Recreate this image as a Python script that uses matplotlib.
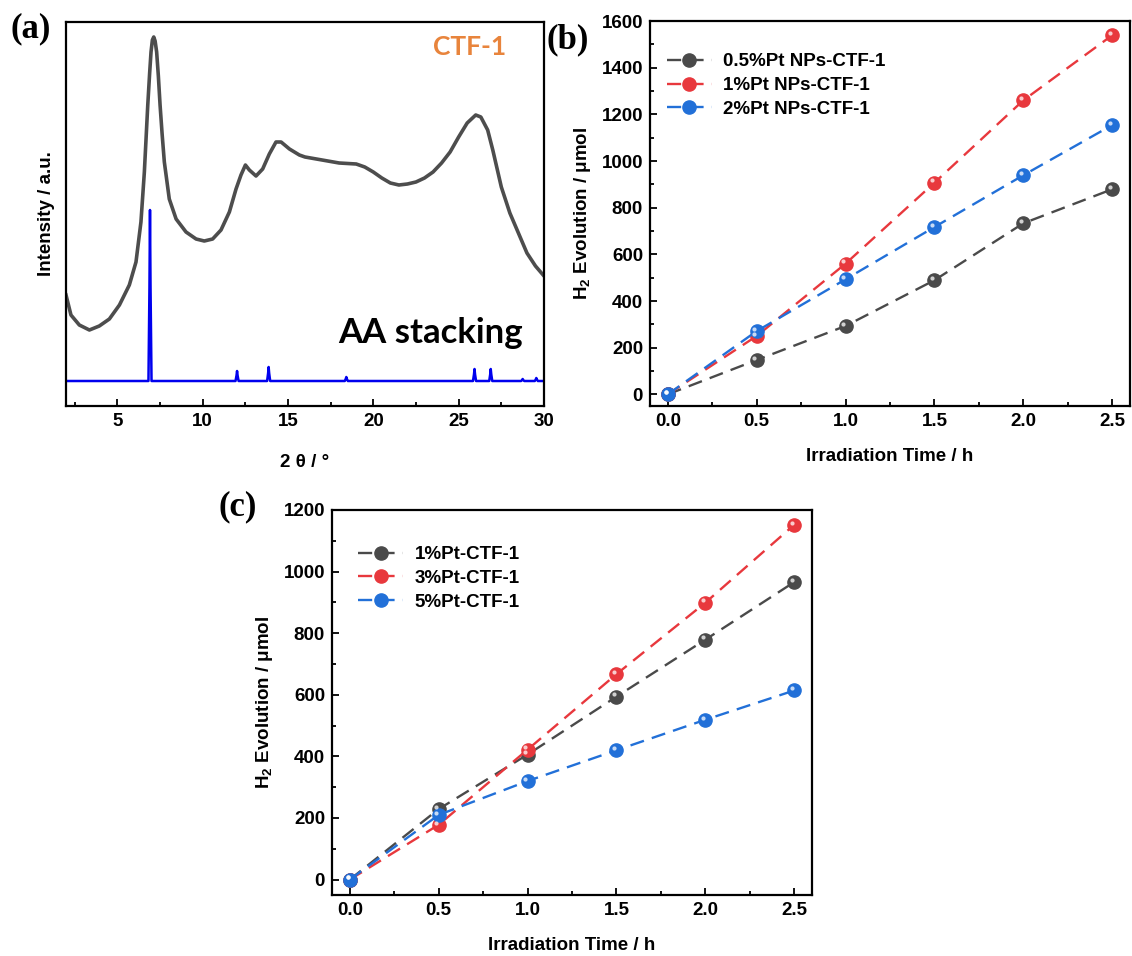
import numpy as np
import matplotlib
matplotlib.use('Agg')
import matplotlib.pyplot as plt
import matplotlib.transforms as mtransforms

plt.rcParams['font.family'] = ['Liberation Sans', 'DejaVu Sans']
plt.rcParams['font.weight'] = 'bold'
plt.rcParams['mathtext.fontset'] = 'custom'
plt.rcParams['mathtext.rm'] = 'Liberation Sans:bold'
plt.rcParams['mathtext.bf'] = 'Liberation Sans:bold'
plt.rcParams['mathtext.default'] = 'bf'

# ---- (a) XRD of CTF-1 (measured) and simulated AA stacking
two_theta = [2.0, 2.29, 2.78, 3.37, 3.95, 4.54, 5.13, 5.71, 6.10, 6.39, 6.59,
             6.79, 6.90, 6.98, 7.06, 7.14, 7.22, 7.31, 7.41, 7.51, 7.63, 7.76,
             8.05, 8.45, 9.03, 9.62, 10.10,
             10.59, 11.08, 11.57, 11.96, 12.25, 12.51, 12.74, 13.13, 13.52,
             13.91, 14.30, 14.60, 15.09, 15.67, 16.0, 17.0, 18.0, 19.0, 19.5,
             20.0, 20.5, 21.0, 21.5, 22.0, 22.5, 23.0, 23.5, 24.0, 24.5, 25.0,
             25.5, 26.0, 26.3, 26.7, 27.0, 27.5, 28.0, 28.5, 29.0, 29.5, 30.0]
intensity = [111, 91, 81, 76, 80, 87, 101, 121, 144, 184, 234,
             301, 333, 354, 366, 369, 365, 354, 330, 301, 272, 244,
             207, 187, 174, 167, 165,
             167, 176, 194, 217, 231, 241, 236, 230, 237,
             252, 264, 264, 257, 251, 249, 246, 243, 242, 239,
             234, 228, 223, 221, 222, 224, 228, 234, 243, 254, 269,
             283, 291, 289, 276, 256, 219, 193, 173, 153, 140, 130]

sim_base = 25
sim_pos = [6.92, 12.02, 13.87, 18.42, 25.93, 26.88, 28.75, 29.55]
sim_height = [196, 35, 39, 29, 37, 37, 27, 28]

# ---- (b) Pt NPs loading
t_b = [0.0, 0.5, 1.0, 1.5, 2.0, 2.5]
h2_b_05 = [0, 147, 293, 489, 733, 879]
h2_b_1 = [0, 250, 560, 907, 1260, 1539]
h2_b_2 = [0, 271, 493, 717, 939, 1154]
labels_b = ['0.5%Pt NPs-CTF-1', '1%Pt NPs-CTF-1', '2%Pt NPs-CTF-1']

# ---- (c) Pt loading
t_c = [0.0, 0.5, 1.0, 1.5, 2.0, 2.5]
h2_c_1 = [0, 229, 406, 594, 779, 966]
h2_c_3 = [0, 178, 422, 667, 899, 1152]
h2_c_5 = [0, 210, 320, 420, 519, 614]
labels_c = ['1%Pt-CTF-1', '3%Pt-CTF-1', '5%Pt-CTF-1']

colors = ['#4a4a4a', '#e8383d', '#2270d8']

fig = plt.figure(figsize=(11.32, 9.56), dpi=100)
W, H = 1132.0, 956.0
FS = 13.5


def add_ax(l, t, r, b):
    return fig.add_axes([l / W, 1 - b / H, (r - l) / W, (b - t) / H])


def style_ax(ax):
    for s in ax.spines.values():
        s.set_linewidth(1.6)
    ax.tick_params(which='both', direction='in', top=False, right=False,
                   labelsize=FS, width=1.3)
    ax.tick_params(which='major', length=5, pad=5)
    ax.tick_params(which='minor', length=3)
    for lab in ax.get_xticklabels() + ax.get_yticklabels():
        lab.set_fontweight('bold')


def stick_pattern(pos, height, base, hw=0.09):
    xs, ys = [2.0], [base]
    for p, h in zip(pos, height):
        xs += [p - hw, p - hw * 0.35, p, p + hw * 0.35, p + hw]
        ys += [base, base + (h - base) * 0.55, h, base + (h - base) * 0.55, base]
    xs.append(30.0)
    ys.append(base)
    return xs, ys


# panel a
ax_a = add_ax(66, 22, 544, 406)
ax_a.plot(two_theta, intensity, color='#4d4d4d', lw=2.6)
sx, sy = stick_pattern(sim_pos, sim_height, sim_base)
ax_a.plot(sx, sy, color='#0000ee', lw=1.8)
ax_a.set_xlim(2, 30)
ax_a.set_ylim(0, 384)
ax_a.set_xticks([5, 10, 15, 20, 25, 30])
ax_a.set_xticks(np.arange(2.5, 30, 2.5), minor=True)
ax_a.set_yticks([])
style_ax(ax_a)
ax_a.set_xlabel('2 θ / °', fontsize=FS, fontweight='bold', labelpad=17)
ax_a.set_ylabel('Intensity / a.u.', fontsize=FS, fontweight='bold', labelpad=8)
ax_a.text(0.92, 0.935, 'CTF-1', transform=ax_a.transAxes, color='#e8843c',
          fontsize=19, fontweight='bold', family=['Lato', 'DejaVu Sans'],
          ha='right', va='center')
ax_a.text(0.955, 0.19, 'AA stacking', transform=ax_a.transAxes, color='black',
          fontsize=25, fontweight='bold', family=['Lato', 'DejaVu Sans'],
          ha='right', va='center')


def sphere_series(ax, x, y, color, label):
    ax.plot(x, y, color=color, lw=1.7, dashes=(6, 3.5), marker='o', ms=9.5,
            mfc=color, mec=color, label=label, zorder=3)
    hl = mtransforms.offset_copy(ax.transData, fig=fig, x=-1.6, y=1.6, units='points')
    ax.plot(x, y, ls='none', marker='o', ms=3, mfc='white', mec='none',
            alpha=0.75, transform=hl, zorder=4)


def rate_panel(ax, t, series, labels, ymax, anchor):
    for y, c, lab in zip(series, colors, labels):
        sphere_series(ax, t, y, c, lab)
    ax.set_xlim(-0.1, 2.6)
    ax.set_ylim(-50, ymax)
    ax.set_xticks([0.0, 0.5, 1.0, 1.5, 2.0, 2.5])
    ax.set_xticks(np.arange(0.25, 2.6, 0.5), minor=True)
    ax.set_yticks(np.arange(0, ymax + 1, 200))
    ax.set_yticks(np.arange(100, ymax, 200), minor=True)
    style_ax(ax)
    ax.set_xlabel('Irradiation Time / h', fontsize=FS, fontweight='bold', labelpad=13)
    ax.set_ylabel('H$_2$ Evolution / μmol', fontsize=FS, fontweight='bold', labelpad=6)
    ax.legend(loc='upper left', bbox_to_anchor=anchor, frameon=False,
              prop={'weight': 'bold', 'size': FS}, handlelength=2.4,
              labelspacing=0.35, handletextpad=0.6)


ax_b = add_ax(650, 21, 1130, 406)
rate_panel(ax_b, t_b, [h2_b_05, h2_b_1, h2_b_2], labels_b, 1600, (0.0, 0.96))

ax_c = add_ax(332, 510, 812, 895)
rate_panel(ax_c, t_c, [h2_c_1, h2_c_3, h2_c_5], labels_c, 1200, (0.02, 0.95))

# panel letters
for txt, x, y in [('(a)', 10, 29), ('(b)', 546, 40), ('(c)', 219, 507)]:
    fig.text(x / W, 1 - y / H, txt, fontsize=25, fontweight='bold',
             family=['Liberation Serif', 'DejaVu Serif'], va='center', ha='left')

fig.savefig('out.png', dpi=100)
